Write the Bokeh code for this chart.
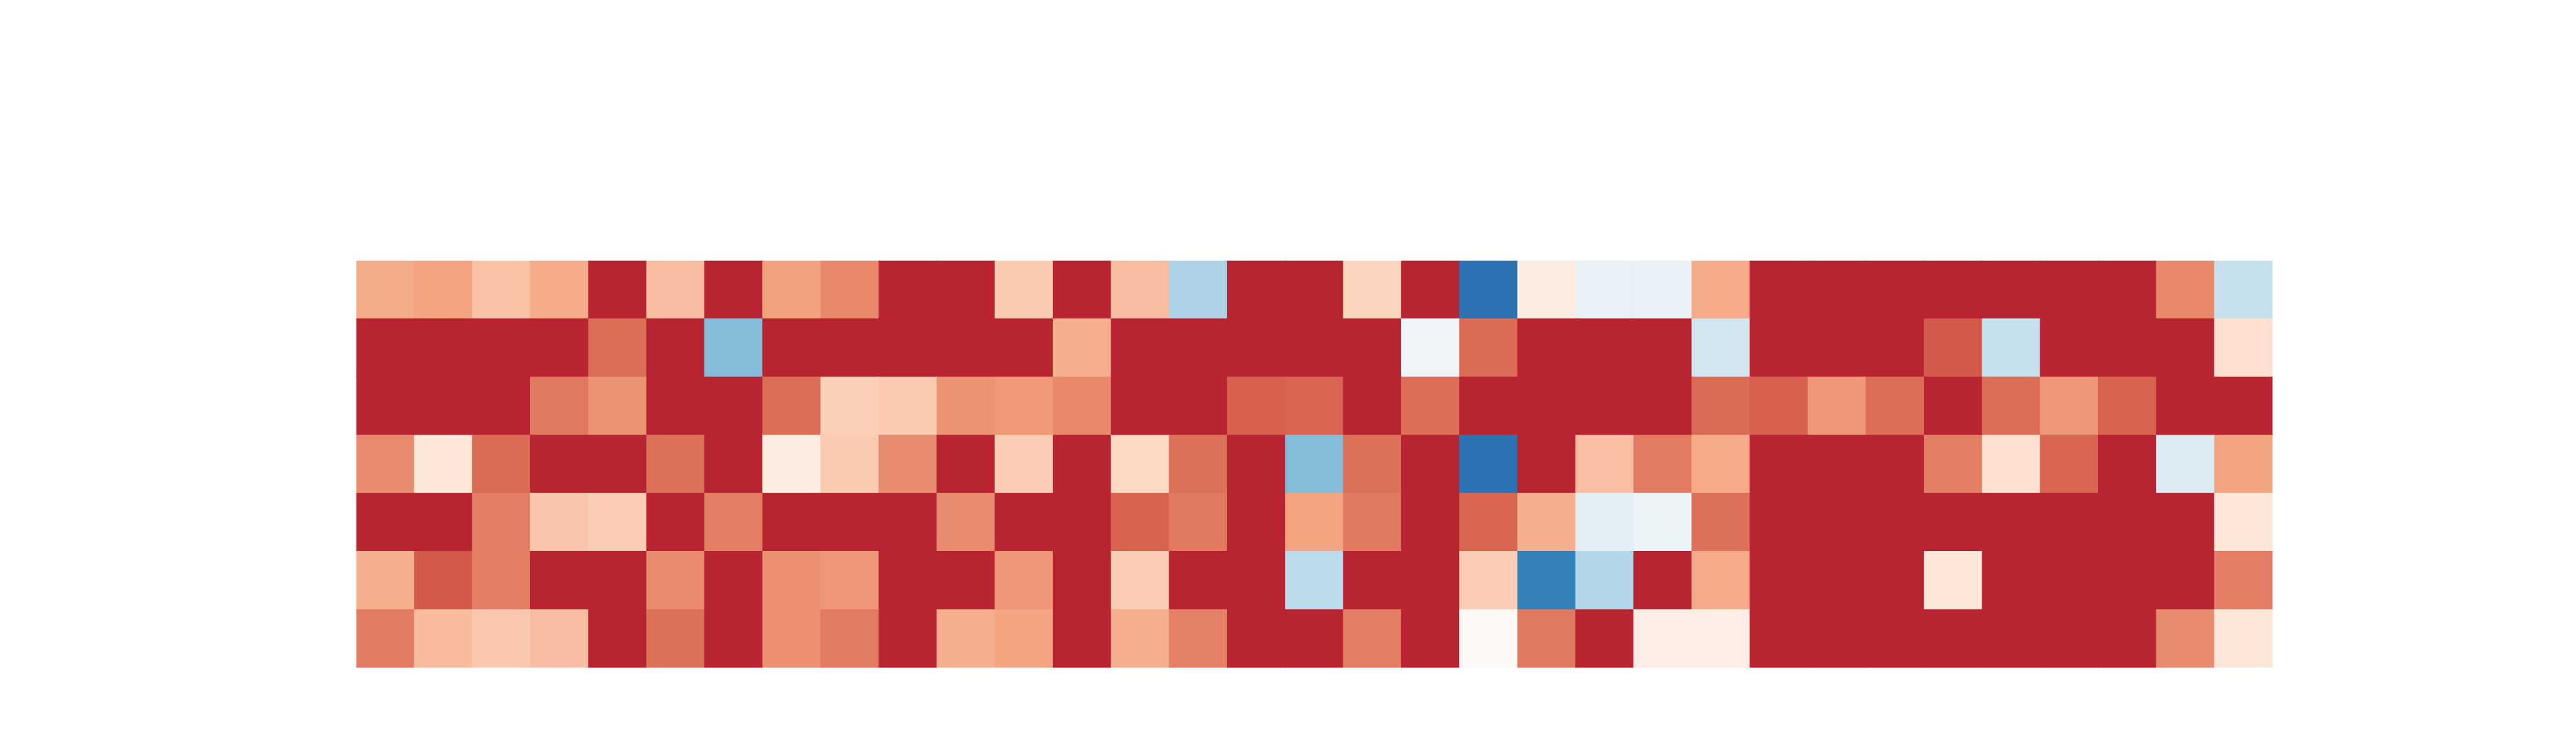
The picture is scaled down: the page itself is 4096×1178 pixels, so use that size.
import numpy as np
from bokeh.plotting import figure
from bokeh.models import ColumnDataSource, LinearColorMapper, Range1d
from bokeh.transform import transform
from bokeh.embed import file_html
from bokeh.resources import INLINE

# ---- data (rows top to bottom, 33 columns each) ----
row_0 = [0.37, 0.40, 0.29, 0.38, 0.76, 0.31, 0.76, 0.41, 0.48, 0.76, 0.76,
         0.26, 0.76, 0.31, -0.31, 0.76, 0.76, 0.22, 0.76, -0.74, 0.10, -0.10,
         -0.10, 0.38, 0.76, 0.76, 0.76, 0.76, 0.76, 0.76, 0.76, 0.48, -0.23]
row_1 = [0.76, 0.76, 0.76, 0.76, 0.56, 0.76, -0.43, 0.76, 0.76, 0.76, 0.76,
         0.76, 0.36, 0.76, 0.76, 0.76, 0.76, 0.76, -0.07, 0.57, 0.76, 0.76,
         0.76, -0.19, 0.76, 0.76, 0.76, 0.61, -0.23, 0.76, 0.76, 0.76, 0.17]
row_2 = [0.76, 0.76, 0.76, 0.53, 0.45, 0.76, 0.76, 0.56, 0.24, 0.26, 0.45,
         0.43, 0.48, 0.76, 0.76, 0.60, 0.58, 0.76, 0.56, 0.76, 0.76, 0.76,
         0.76, 0.57, 0.60, 0.44, 0.56, 0.76, 0.56, 0.44, 0.59, 0.76, 0.76]
row_3 = [0.47, 0.13, 0.57, 0.76, 0.76, 0.55, 0.76, 0.10, 0.26, 0.47, 0.76,
         0.25, 0.76, 0.21, 0.55, 0.76, -0.43, 0.55, 0.76, -0.74, 0.76, 0.30,
         0.52, 0.38, 0.76, 0.76, 0.76, 0.51, 0.17, 0.58, 0.76, -0.15, 0.40]
row_4 = [0.76, 0.76, 0.51, 0.28, 0.25, 0.76, 0.51, 0.76, 0.76, 0.76, 0.47,
         0.76, 0.76, 0.59, 0.53, 0.76, 0.40, 0.53, 0.76, 0.58, 0.36, -0.11,
         -0.08, 0.55, 0.76, 0.76, 0.76, 0.76, 0.76, 0.76, 0.76, 0.76, 0.14]
row_5 = [0.36, 0.61, 0.51, 0.76, 0.76, 0.47, 0.76, 0.46, 0.44, 0.76, 0.76,
         0.44, 0.76, 0.25, 0.76, 0.76, -0.26, 0.76, 0.76, 0.25, -0.68, -0.29,
         0.76, 0.38, 0.76, 0.76, 0.76, 0.14, 0.76, 0.76, 0.76, 0.76, 0.51]
row_6 = [0.52, 0.32, 0.27, 0.31, 0.76, 0.55, 0.76, 0.46, 0.52, 0.76, 0.36,
         0.40, 0.76, 0.36, 0.50, 0.76, 0.76, 0.51, 0.76, 0.02, 0.53, 0.76,
         0.09, 0.09, 0.76, 0.76, 0.76, 0.76, 0.76, 0.76, 0.76, 0.47, 0.13]

rows = [row_0, row_1, row_2, row_3, row_4, row_5, row_6]
n_rows = len(rows)
n_cols = len(row_0)

# ---- colour palette (RdBu reversed, light centre, interpolated) ----
anchors = ["#053061", "#2166ac", "#4393c3", "#92c5de", "#d1e5f0", "#fdfcfb",
           "#fddbc7", "#f4a582", "#d6604d", "#b2182b", "#67001f"]
rgb = np.array([[int(h[i:i + 2], 16) for i in (1, 3, 5)] for h in anchors], float)
pos = np.linspace(0, 1, len(anchors))
t = np.linspace(0, 1, 256)
palette = []
for tt in t:
    c = [np.interp(tt, pos, rgb[:, k]) for k in range(3)]
    palette.append("#%02x%02x%02x" % tuple(int(round(v)) for v in c))

mapper = LinearColorMapper(palette=palette, low=-1, high=1)

xs, ys, vals = [], [], []
for r, row in enumerate(rows):
    for c, v in enumerate(row):
        xs.append(c + 0.5)
        ys.append(n_rows - 1 - r + 0.5)
        vals.append(v)
src = ColumnDataSource(dict(x=xs, y=ys, v=vals))

W, H = 4080, 1162
p = figure(width=W, height=H, output_backend="svg", toolbar_location=None,
           x_range=Range1d(0, n_cols), y_range=Range1d(0, n_rows),
           x_axis_location=None, y_axis_location=None,
           min_border_left=566, min_border_right=467,
           min_border_top=414, min_border_bottom=101)
p.rect(x="x", y="y", width=1.012, height=1.012, source=src,
       fill_color=transform("v", mapper), line_color=None)
p.grid.visible = False
p.outline_line_color = None
p.background_fill_color = "white"
p.border_fill_color = "white"

open("out.html", "w").write(file_html(p, INLINE))
